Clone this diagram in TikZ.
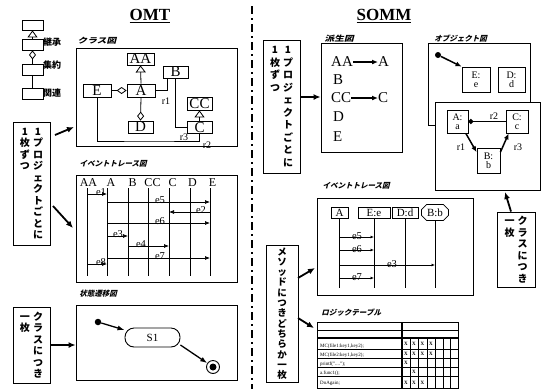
\documentclass[tikz,border=0pt]{standalone}
\usepackage{fontspec}
\setmainfont{Liberation Serif}
\newfontfamily\jp{Noto Sans CJK JP}
\usetikzlibrary{arrows.meta,shapes.misc,calc}
\newcommand{\vc}[1]{\parbox[t]{11pt}{\centering #1}}
\begin{document}
\begin{tikzpicture}[x=1pt,y=-1pt,
  lbl/.style={font=\jp\bfseries\fontsize{7.5}{8}\selectfont, xslant=0.25, anchor=west, inner sep=0pt},
  leg/.style={font=\jp\bfseries\fontsize{9}{9}\selectfont, anchor=west, inner sep=0pt},
  vlab/.style={draw, line width=0.9pt, inner sep=1pt, font=\jp\bfseries\fontsize{10}{11.5}\selectfont},
  dframe/.style={draw, line width=0.8pt, inner sep=0pt, fill=white},
  lgbox/.style={draw, line width=0.8pt, minimum width=21pt, inner sep=0pt},
  cb/.style={draw, line width=0.8pt, inner sep=0pt, font=\fontsize{15}{15}\selectfont},
  thin1/.style={line width=0.8pt},
  rl/.style={font=\fontsize{10}{10}\selectfont, inner sep=0pt},
  hd/.style={font=\fontsize{12}{12}\selectfont, inner sep=0pt},
  ml/.style={font=\fontsize{10.5}{10.5}\selectfont, inner sep=0pt},
  msgarrow/.style={line width=0.7pt, -{Latex[length=5pt,width=4pt]}},
  smallarrow/.style={line width=0.7pt, -{Latex[length=3.5pt,width=3pt]}},
  bigarrow/.style={line width=1.8pt, -{Latex[length=7pt,width=6pt]}},
  statearrow/.style={line width=1.3pt, -{Latex[length=7pt,width=5pt]}},
  objarrow/.style={line width=1.5pt, -{Latex[length=6pt,width=5pt]}},
  dt/.style={font=\fontsize{15}{15}\selectfont, inner sep=0pt, anchor=west},
  ob/.style={draw, line width=0.8pt, inner sep=0pt, align=center, font=\fontsize{10}{9}\selectfont},
  hb/.style={draw, line width=0.8pt, inner sep=1pt, minimum height=11pt, font=\fontsize{11}{11}\selectfont},
  tt/.style={font=\fontsize{5}{5}\selectfont, inner sep=0pt, anchor=base west},
  mk/.style={font=\bfseries\fontsize{5}{5}\selectfont, inner sep=0pt}
]
\useasboundingbox (0,0) rectangle (543,389);

% divider
\draw[line width=2pt, dash pattern=on 8pt off 4pt on 2pt off 4pt] (252,6) -- (252,389);

% titles
\node[font=\bfseries\fontsize{17}{17}\selectfont, inner sep=0pt] (omt) at (150,16) {\underline{OMT}};
\node[font=\bfseries\fontsize{17}{17}\selectfont, inner sep=0pt] (somm) at (384,16) {\underline{SOMM}};

% legend
\node[lgbox, minimum height=10pt] (lg1) at (32.5,25) {};
\node[lgbox, minimum height=11pt] (lg2) at (32.5,44.5) {};
\node[lgbox, minimum height=11pt] (lg3) at (32.5,69.5) {};
\node[lgbox, minimum height=11pt] (lg4) at (32.5,93.5) {};
\draw[thin1, -{Triangle[open,length=7pt,width=10pt]}] (lg2.north) -- (lg1.south);
\draw[thin1, -{Diamond[open,length=9pt,width=7pt]}] (lg3.north) -- (lg2.south);
\draw[thin1] (lg3.south) -- (lg4.north);
\node[leg] (t1) at (43,42) {継承};
\node[leg] (t2) at (43,65) {集約};
\node[leg] (t3) at (43,93) {関連};

% ===== OMT class diagram
\node[dframe, minimum width=161pt, minimum height=98pt] (cfr) at (156.5,97) {};
\node[lbl, xscale=1.3] (cl) at (78,41) {クラス図};
\node[cb, minimum width=27pt, minimum height=12pt] (AA) at (140.5,59) {AA};
\node[cb, minimum width=25pt, minimum height=12pt] (B) at (175.5,72) {B};
\node[cb, minimum width=28pt, minimum height=13pt] (E) at (97,90.5) {E};
\node[cb, minimum width=28pt, minimum height=13pt] (A) at (141,90.5) {A};
\node[cb, minimum width=25pt, minimum height=13pt] (CC) at (199.5,103.5) {CC};
\node[cb, minimum width=25pt, minimum height=12pt] (C) at (199.5,127.5) {C};
\node[cb, minimum width=25pt, minimum height=12pt] (D) at (140.5,127) {D};
\draw[thin1, -{Triangle[open,length=7pt,width=10pt]}] (A.north) -- (AA.south);
\draw[thin1, -{Diamond[open,length=10pt,width=7pt]}] (E.east) -- (A.west);
\draw[thin1, -{Diamond[open,length=9pt,width=7pt]}] (A.south) -- (D.north);
\draw[thin1, -{Triangle[open,length=7pt,width=10pt]}] (C.north) -- (CC.south);
\draw[thin1] (A.east) -| ([xshift=-8pt]B.south);
\draw[thin1] (B.south) |- (C.west);
\coordinate (r2c) at (150,141);
\draw[thin1] (E.south) |- (r2c) -| (C.south);
\node[rl] (r1l) at (166,101) {r1};
\node[rl] (r3l) at (184,137) {r3};
\node[rl] (r2l) at (207,145) {r2};

% ===== OMT event trace
\node[dframe, minimum width=161pt, minimum height=107pt] (tfr) at (156.5,228.5) {};
\node[lbl] (tl) at (80,164) {イベントトレース図};
\node[hd] (hAA) at (88.5,183) {AA};
\node[hd] (hA1) at (111,183) {A};
\node[hd] (hB1) at (132.5,183) {B};
\node[hd] (hCC) at (152.5,183) {CC};
\node[hd] (hC1) at (172.5,183) {C};
\node[hd] (hD1) at (192.5,183) {D};
\node[hd] (hE1) at (212.5,183) {E};
\foreach \n/\x in {1/87,2/107,3/128,4/148,5/169,6/190,7/210} {
  \coordinate (L\n) at (\x,188);
  \coordinate (Lb\n) at (\x,276);
  \draw[thin1] (L\n) -- (Lb\n);
}
\foreach \a/\b/\y/\lab/\lx in {1/2/194/e1/101, 2/7/202/e5/160, 7/5/212/e2/201, 2/7/223/e6/160, 2/3/236/e3/118, 3/5/246/e4/141, 2/7/258/e7/160, 1/2/264/e8/101} {
  \coordinate (my) at (0,\y);
  \draw[msgarrow] (L\a |- my) -- (L\b |- my);
  \node[ml] at (\lx,\y-1.5) {\lab};
}

% ===== OMT state diagram
\node[dframe, minimum width=161pt, minimum height=75pt] (sfr) at (156.5,342.5) {};
\node[lbl] (sl) at (80,294) {状態遷移図};
\node[circle, fill, inner sep=0pt, minimum size=6.5pt] (init) at (98,322) {};
\node[draw, line width=0.9pt, rounded corners=9pt, minimum width=55pt, minimum height=19pt, font=\fontsize{11}{11}\selectfont] (S1) at (152.5,337.5) {S1};
\node[circle, draw, line width=0.9pt, minimum size=13pt, inner sep=0pt] (fin) at (213,367) {};
\node[circle, fill, minimum size=7pt, inner sep=0pt] (finin) at (fin) {};
\draw[statearrow] (init) -- (S1.165);
\draw[statearrow] (S1.-15) -- (fin);

% ===== OMT vertical labels
\node[vlab, minimum width=37pt, minimum height=123pt] (lb1) at (31.5,183.5)
  {\vc{1\\枚\\ず\\つ}\hspace{2pt}\vc{1\\プ\\ロ\\ジ\\ェ\\ク\\ト\\ご\\と\\に}};
\node[vlab, minimum width=37pt, minimum height=76pt] (lb3) at (31.5,345)
  {\vc{一\\枚}\hspace{2pt}\vc{ク\\ラ\\ス\\に\\つ\\き}};
\coordinate (a1s) at (55,135); \coordinate (a1e) at (74,127);
\draw[bigarrow] (a1s) -- (a1e);
\coordinate (a2s) at (53,206); \coordinate (a2e) at (73,228);
\draw[bigarrow] (a2s) -- (a2e);
\draw[bigarrow] (lb3.east) -- (sfr.west |- lb3.east);

% ===== SOMM derivation
\node[vlab, minimum width=37pt, minimum height=133pt, font=\jp\bfseries\fontsize{10}{12.5}\selectfont] (lb2) at (281.5,106.5)
  {\vc{1\\枚\\ず\\つ}\hspace{2pt}\vc{1\\プ\\ロ\\ジ\\ェ\\ク\\ト\\ご\\と\\に}};
\node[dframe, minimum width=81pt, minimum height=109pt] (dfr) at (361.5,97.5) {};
\node[lbl, xscale=1.3] (dl) at (325,39) {派生図};
\coordinate (a4) at (0,97);
\draw[bigarrow] (lb2.east |- a4) -- (dfr.west |- a4);
\node[dt] (dAA) at (331,62) {AA};
\node[dt] (dA) at (378,62) {A};
\draw[objarrow] (dAA.east) -- (dA.west);
\node[dt] (dB) at (333,80) {B};
\node[dt] (dCC) at (331,98) {CC};
\node[dt] (dC) at (378,98) {C};
\draw[objarrow] (dCC.east) -- (dC.west);
\node[dt] (dD) at (333,117) {D};
\node[dt] (dE) at (333,137) {E};

% ===== SOMM object diagram
\node[dframe, minimum width=102pt, minimum height=82pt] (ofr1) at (479,84) {};
\node[lbl] (ol) at (435,39) {オブジェクト図};
\node[circle, fill, minimum size=6pt, inner sep=0pt] (oinit) at (438,55) {};
\node[ob, minimum width=28pt, minimum height=25pt] (Ee) at (476,79.5) {E:\\e};
\node[ob, minimum width=27pt, minimum height=25pt] (Dd) at (511.5,79.5) {D:\\d};
\draw[objarrow] (oinit) -- (Ee.north west);
\node[dframe, minimum width=105pt, minimum height=88pt] (ofr2) at (487.5,146) {};
\node[ob, minimum width=21pt, minimum height=23pt] (Aa) at (457.5,121.5) {A:\\a};
\node[ob, minimum width=22pt, minimum height=23pt] (Cc) at (517,121.5) {C:\\c};
\node[ob, minimum width=23pt, minimum height=25pt] (Bb) at (488.5,160.5) {B:\\b};
\draw[line width=1.4pt, -{Circle[length=5pt]}] (Cc.west) -- (Aa.east);
\draw[objarrow] (Aa.-55) -- (Bb.145);
\draw[objarrow] (Bb.35) -- (Cc.-125);
\node[rl] (or2) at (494,116) {r2};
\node[rl] (or1) at (461,147) {r1};
\node[rl] (or3) at (518,147) {r3};

\node[vlab, minimum width=38pt, minimum height=75pt] (lb5) at (516,249.5)
  {\vc{一\\枚}\hspace{2pt}\vc{ク\\ラ\\ス\\に\\つ\\き}};
\coordinate (a7e) at (505,192);
\draw[bigarrow] ([xshift=-5pt]lb5.north) -- (a7e);

% ===== SOMM event trace
\node[dframe, minimum width=156pt, minimum height=97pt] (t2fr) at (395,246.5) {};
\node[lbl] (t2l) at (323,186) {イベントトレース図};
\node[hb, minimum width=17pt] (hA) at (339.5,212.5) {A};
\node[hb, minimum width=32pt] (hE) at (374,212.5) {E:e};
\node[hb, minimum width=26pt] (hD) at (405,212.5) {D:d};
\node[hb, chamfered rectangle, chamfered rectangle xsep=2pt, minimum width=27pt] (hB) at (435,212.5) {B:b};
\coordinate (tb2) at (0,288);
\foreach \h in {hA,hE,hD,hB} { \draw[thin1] (\h.south) -- (\h.south |- tb2); }
\foreach \b/\y/\lab/\lx in {hE/237/e5/357, hE/250/e6/357, hB/265/e3/392, hE/278/e7/357} {
  \coordinate (my) at (0,\y);
  \draw[smallarrow] (hA.south |- my) -- (\b.south |- my);
  \node[ml] at (\lx,\y-1) {\lab};
}

% method label
\node[vlab, minimum width=32pt, minimum height=137pt, font=\jp\bfseries\fontsize{9.5}{10.3}\selectfont] (lb4) at (282,313.5)
  {\vc{メ\\ソ\\ッ\\ド\\に\\つ\\き\\ど\\ち\\ら\\か\\一\\枚}};
\coordinate (a5s) at (298,278); \coordinate (a5e) at (315,268);
\draw[bigarrow] (a5s) -- (a5e);
\coordinate (a6s) at (298,318); \coordinate (a6e) at (314,328);
\draw[bigarrow] (a6s) -- (a6e);

% ===== logic table
\node[lbl] (ll) at (322,313) {ロジックテーブル};
\draw[line width=0.9pt] (317,322) rectangle (458,388.5);
\draw[line width=0.6pt] (317,330) -- (458,330);
\draw[line width=1.2pt] (317,338) -- (458,338);
\foreach \y in {349,358,367,376} { \draw[line width=0.6pt] (317,\y) -- (458,\y); }
\draw[line width=1.4pt] (402,322) -- (402,388.5);
\foreach \x in {410,418,427,435,443,450} { \draw[line width=0.6pt] (\x,338) -- (\x,388.5); }
\node[tt] at (320,347.5) {MC(file1:key1,key2);};
\node[tt] at (320,356.5) {MC(file2:key1,key2);};
\node[tt] at (320,365.5) {printf("....");};
\node[tt] at (320,374.5) {a.func1();};
\node[tt] at (320,384.5) {DoAgain;};
\foreach \x/\y in {406/343.5, 414/343.5, 422.5/343.5, 431/343.5,
                   406/353.5, 414/353.5, 422.5/353.5, 431/353.5,
                   406/362.5, 414/371.5, 406/382.5, 414/382.5, 422.5/382.5} {
  \node[mk] at (\x,\y) {X};
}
\end{tikzpicture}
\end{document}
